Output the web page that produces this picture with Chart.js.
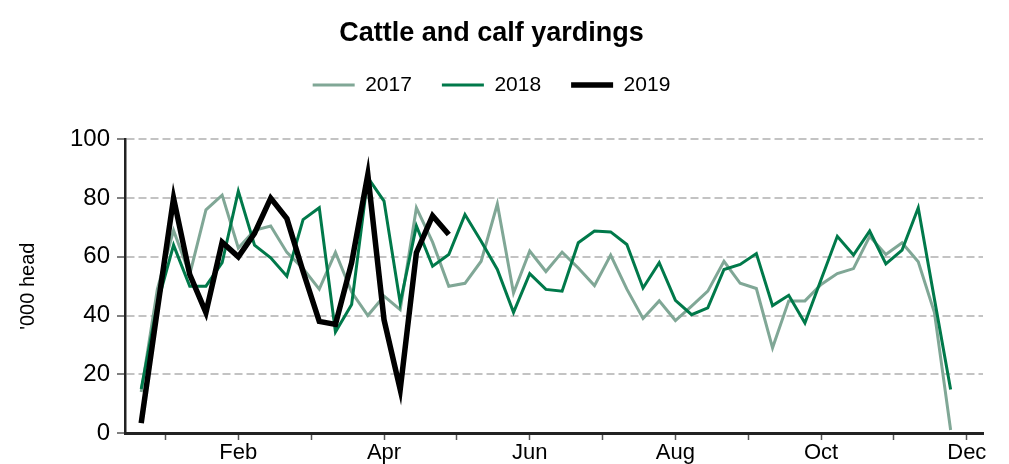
<!DOCTYPE html>
<html>
<head>
<meta charset="utf-8">
<script src="https://cdn.jsdelivr.net/npm/chart.js@4/dist/chart.umd.min.js"></script>
<style>
    html, body { margin: 0; padding: 0; background: #fff; }
    #wrap { width: 1009px; height: 464px; }
</style>
</head>
<body>
<div id="wrap"><canvas id="chart" width="1009" height="464"></canvas></div>
<script>
// weekly yardings, '000 head (index = week of year)
const y2017 = [14, 49, 69, 54, 76, 81, 63, 69, 70.5, 61.5, 56, 49, 61.5, 48, 40, 46.6, 42, 76.7, 65, 50,
    51, 58.5, 78, 47.7, 62, 55, 61.6, 56.2, 50.2, 60.6, 49, 39, 45, 38.3, 43.2, 48.3, 58.5, 51, 49.2, 29,
    45, 45, 50.6, 54.3, 56, 67, 60.8, 64.8, 58.3, 41, 1];
const y2018 = [15, 44, 64, 50, 50, 58, 82.4, 64, 59.7, 53.4, 72.7, 76.7, 34.4, 43.8, 87, 79, 44.3, 70.5, 56.8, 60.8,
    74.4, 65.3, 55.7, 41.1, 54.3, 48.9, 48.3, 64.8, 68.8, 68.5, 64.2, 49.4, 58, 45.2, 40.3, 42.6, 55.7, 57.4, 61.1, 43.4,
    46.9, 37.5, 52.3, 67, 60.6, 68.8, 57.6, 62.3, 76.7, 45.6, 14.8];
const y2019 = [3.4, 42, 80, 54, 41, 65, 60, 68, 80, 73, 55, 38, 37, 58, 88, 38.6, 14.8, 61.4, 74, 67.6];

const monthLabels = ['Jan', 'Feb', 'Mar', 'Apr', 'May', 'Jun', 'Jul', 'Aug', 'Sep', 'Oct', 'Nov', 'Dec'];
const monthWeeks = [1.5, 6, 10.5, 15, 19.5, 24, 28.5, 33, 37.5, 42, 46.5, 51];
const yTicks = [0, 20, 40, 60, 80, 100];

const FONT = "'Liberation Sans', Arial, sans-serif";
const toPoints = arr => arr.map((v, i) => ({ x: i, y: v }));

const series = [
    { label: '2017', data: toPoints(y2017), borderColor: '#80a796', borderWidth: 3, order: 2 },
    { label: '2018', data: toPoints(y2018), borderColor: '#00794a', borderWidth: 3, order: 1 },
    { label: '2019', data: toPoints(y2019), borderColor: '#000000', borderWidth: 5.5, order: 0 }
];

// push the plot down below the legend
const legendSpace = {
    id: 'legendSpace',
    beforeInit(chart) {
        const fit = chart.legend.fit;
        chart.legend.fit = function () {
            fit.call(this);
            this.height += 34;
        };
    }
};

new Chart(document.getElementById('chart'), {
    type: 'line',
    data: {
        datasets: series.map(s => ({ ...s, backgroundColor: s.borderColor, pointRadius: 0, tension: 0, fill: false }))
    },
    plugins: [legendSpace],
    options: {
        responsive: false,
        animation: false,
        devicePixelRatio: 1,
        layout: { padding: { left: 0, right: 26, top: 0, bottom: 0 } },
        plugins: {
            title: {
                display: true,
                text: 'Cattle and calf yardings',
                color: '#000',
                font: { family: FONT, size: 27, weight: 'bold' },
                padding: { top: 17, bottom: -5 }
            },
            legend: {
                display: true,
                labels: {
                    color: '#000',
                    font: { family: FONT, size: 21 },
                    usePointStyle: true,
                    pointStyle: 'line',
                    pointStyleWidth: 42,
                    padding: 30,
                    sort: (a, b) => a.datasetIndex - b.datasetIndex
                }
            },
            tooltip: { enabled: false }
        },
        scales: {
            x: {
                type: 'linear',
                min: -1,
                max: 52,
                afterBuildTicks: scale => { scale.ticks = monthWeeks.map(v => ({ value: v })); },
                afterFit: scale => { scale.height = 31; },
                ticks: {
                    autoSkip: false,
                    maxRotation: 0,
                    padding: 0,
                    color: '#000',
                    font: { family: FONT, size: 22 },
                    callback: (value, index) => index % 2 === 1 ? monthLabels[index] : ''
                },
                grid: { drawOnChartArea: false, drawTicks: true, tickLength: 7, tickColor: '#555', tickWidth: 1.5 },
                border: { display: true, color: '#222', width: 3 }
            },
            y: {
                min: 0,
                max: 100,
                afterBuildTicks: scale => { scale.ticks = yTicks.map(v => ({ value: v })); },
                afterFit: scale => { scale.width = 125; },
                title: {
                    display: true,
                    text: "'000 head",
                    color: '#000',
                    font: { family: FONT, size: 20 },
                    padding: { top: 16, bottom: 0 }
                },
                ticks: { color: '#000', font: { family: FONT, size: 24 }, padding: 7 },
                grid: {
                    color: '#c3c3c3',
                    lineWidth: 2,
                    tickLength: 8,
                    tickColor: '#555',
                    tickWidth: 1.5,
                    tickBorderDash: []
                },
                border: { display: true, color: '#222', width: 2.5, dash: [8, 4] }
            }
        }
    }
});
</script>
</body>
</html>
